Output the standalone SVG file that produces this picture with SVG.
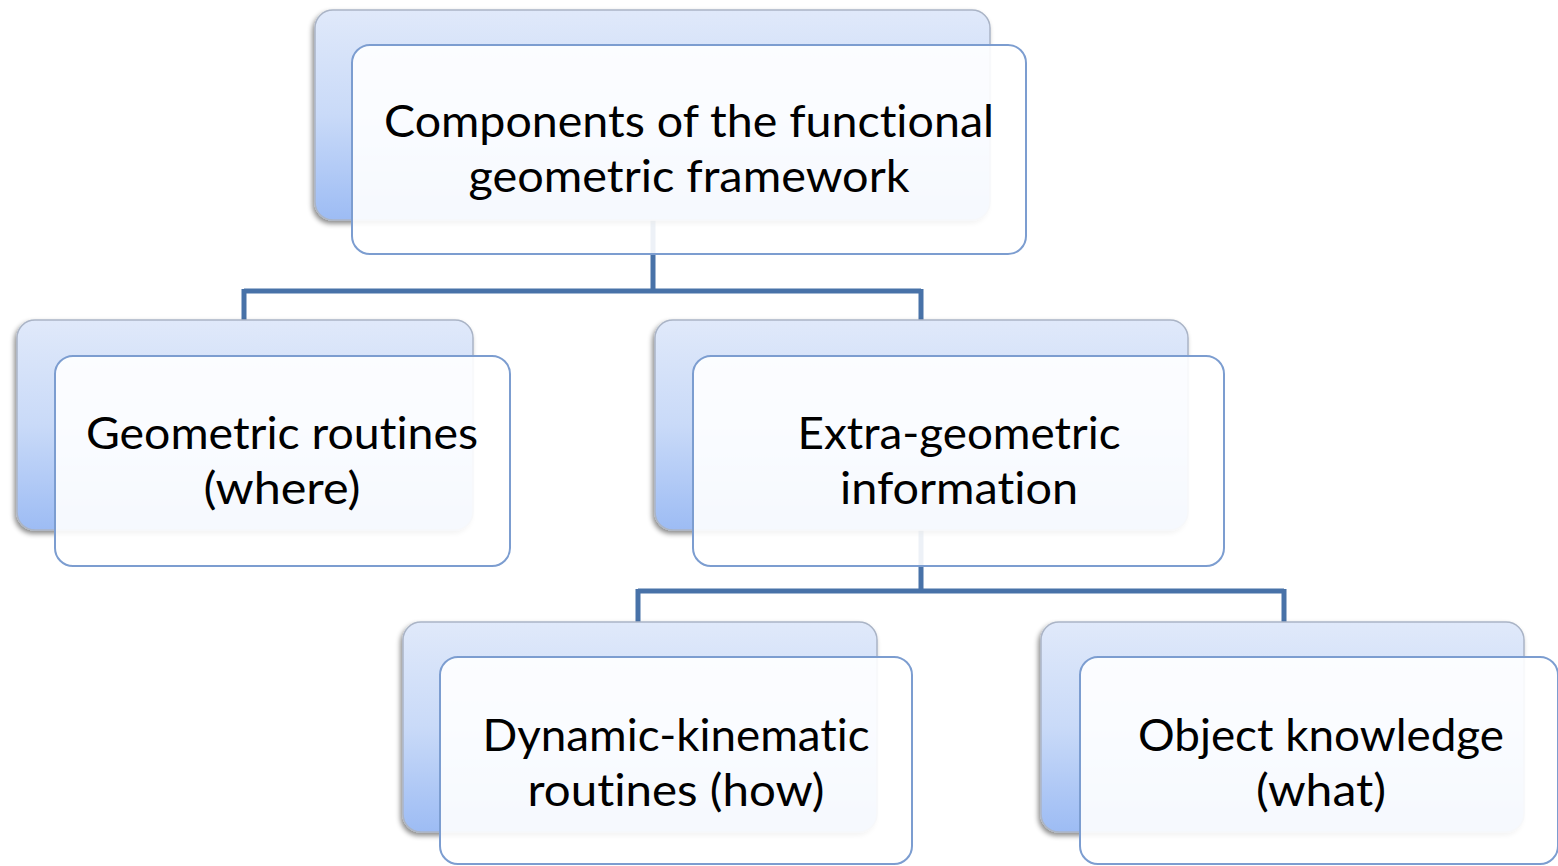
<svg xmlns="http://www.w3.org/2000/svg" width="1558" height="866" viewBox="0 0 1558 866">
<defs>
<linearGradient id="g" x1="0" y1="0" x2="0" y2="1">
<stop offset="0" stop-color="#e0e9fa"/>
<stop offset="0.5" stop-color="#c9daf8"/>
<stop offset="1" stop-color="#9dbcf4"/>
</linearGradient>
<filter id="sh" x="-10%" y="-10%" width="120%" height="130%">
<feDropShadow dx="-2" dy="3" stdDeviation="2.5" flood-color="#000" flood-opacity="0.45"/>
</filter>
</defs>
<style>
.back{fill:url(#g);stroke:#aab4c6;stroke-width:1.5;filter:url(#sh)}
.front{fill:#ffffff;fill-opacity:0.9;stroke:#7c9dd0;stroke-width:2}
.t{font-family:Lato,"Open Sans",sans-serif;font-size:44px;fill:#000;text-anchor:middle;font-variant-ligatures:none}
.c{fill:none;stroke:#4872a8;stroke-width:5}
</style>
<rect width="1558" height="866" fill="#fff"/>
<g id="connectors">
<path class="c" d="M653 220 V291 M244 291 H921 M244 289 V320 M921 289 V320"/>
<path class="c" d="M921 530 V591 M638 591 H1284 M638 589 V622 M1284 589 V622"/>
</g>
<g id="node-root">
<rect class="back" x="315" y="10" width="675" height="210" rx="18"/>
<rect class="front" x="352" y="45" width="674" height="209" rx="18"/>
<text class="t" x="689" y="137" textLength="610" lengthAdjust="spacingAndGlyphs">Components of the functional</text>
<text class="t" x="689" y="192" textLength="441" lengthAdjust="spacingAndGlyphs">geometric framework</text>
</g>
<g id="node-geometric">
<rect class="back" x="17" y="320" width="456" height="210" rx="18"/>
<rect class="front" x="55" y="356" width="455" height="210" rx="18"/>
<text class="t" x="282" y="449" textLength="392" lengthAdjust="spacingAndGlyphs">Geometric routines</text>
<text class="t" x="282" y="504" textLength="157" lengthAdjust="spacingAndGlyphs">(where)</text>
</g>
<g id="node-extra">
<rect class="back" x="655" y="320" width="533" height="210" rx="18"/>
<rect class="front" x="693" y="356" width="531" height="210" rx="18"/>
<text class="t" x="959" y="449" textLength="323" lengthAdjust="spacingAndGlyphs">Extra-geometric</text>
<text class="t" x="959" y="504" textLength="238" lengthAdjust="spacingAndGlyphs">information</text>
</g>
<g id="node-dynamic">
<rect class="back" x="403" y="622" width="474" height="210" rx="18"/>
<rect class="front" x="440" y="657" width="472" height="207" rx="18"/>
<text class="t" x="676" y="751" textLength="387" lengthAdjust="spacingAndGlyphs">Dynamic-kinematic</text>
<text class="t" x="676" y="806" textLength="297" lengthAdjust="spacingAndGlyphs">routines (how)</text>
</g>
<g id="node-object">
<rect class="back" x="1041" y="622" width="483" height="210" rx="18"/>
<rect class="front" x="1080" y="657" width="478" height="207" rx="18"/>
<text class="t" x="1321" y="751" textLength="366" lengthAdjust="spacingAndGlyphs">Object knowledge</text>
<text class="t" x="1321" y="806" textLength="130" lengthAdjust="spacingAndGlyphs">(what)</text>
</g>
</svg>
